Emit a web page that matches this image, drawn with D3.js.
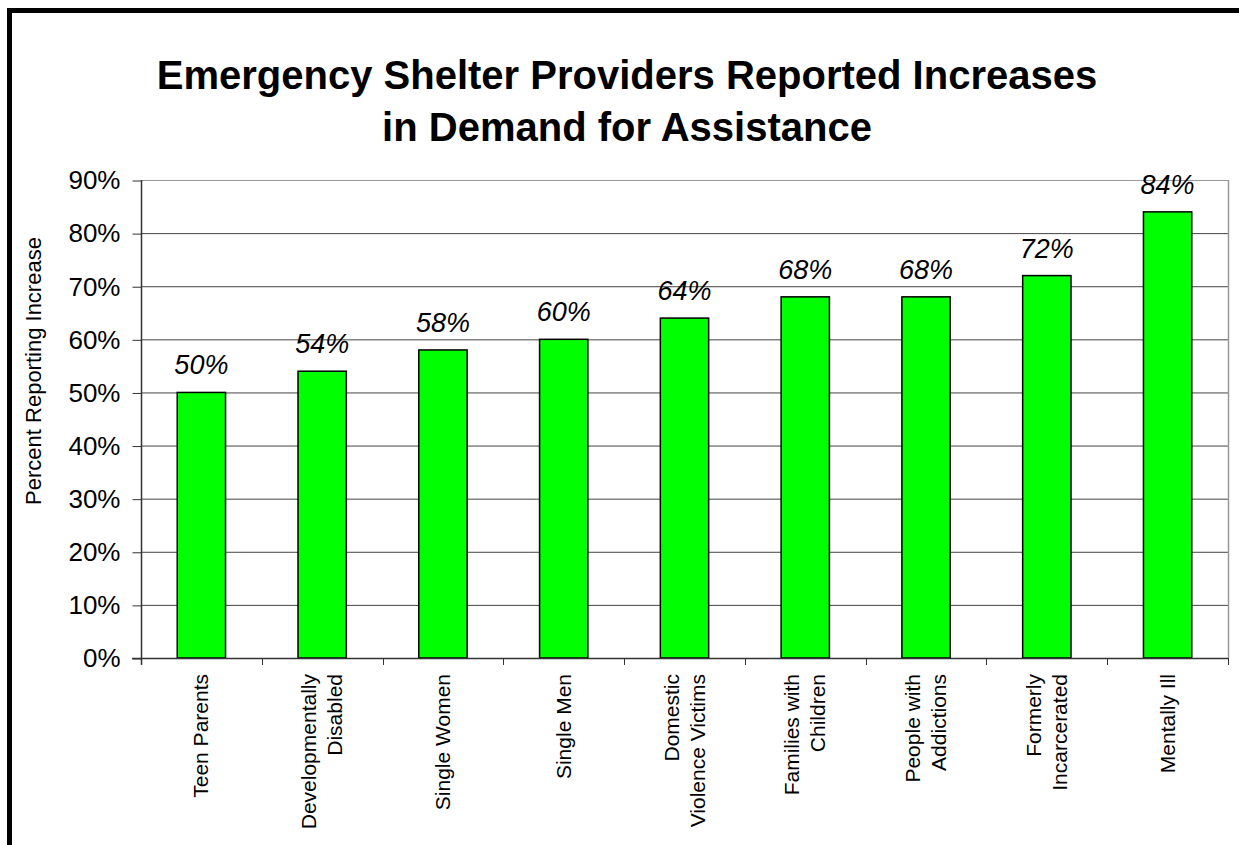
<!DOCTYPE html>
<html>
<head>
<meta charset="utf-8">
<script src="https://cdn.jsdelivr.net/npm/d3@7"></script>
<style>
  html, body { margin: 0; padding: 0; background: #fff; }
  svg { display: block; }
  text { font-family: "Liberation Sans", Arial, Helvetica, sans-serif; }
</style>
</head>
<body>
<script>
// Groups served by emergency shelters, one entry per bar (line breaks as drawn)
const categories = [
  ["Teen Parents"],
  ["Developmentally", "Disabled"],
  ["Single Women"],
  ["Single Men"],
  ["Domestic", "Violence Victims"],
  ["Families with", "Children"],
  ["People with", "Addictions"],
  ["Formerly", "Incarcerated"],
  ["Mentally Ill"]
];
// Share of providers reporting an increase in demand
const values = [0.50, 0.54, 0.58, 0.60, 0.64, 0.68, 0.68, 0.72, 0.84];
const yTicks = [0, 0.1, 0.2, 0.3, 0.4, 0.5, 0.6, 0.7, 0.8, 0.9];
const titleLines = ["Emergency Shelter Providers Reported Increases", "in Demand for Assistance"];
const yTitle = "Percent Reporting Increase";

const W = 1239, H = 845;
const plot = { left: 141, right: 1228, top: 180, bottom: 658 };

const svg = d3.select("body").append("svg")
  .attr("width", W).attr("height", H);

svg.append("rect").attr("width", W).attr("height", H).attr("fill", "#fff");

// Outer frame (only top and left edges fall inside the page)
svg.append("rect")
  .attr("x", 9.5).attr("y", 10.5)
  .attr("width", W + 20).attr("height", H + 20)
  .attr("fill", "none").attr("stroke", "#000").attr("stroke-width", 5);

// Title
svg.append("g").selectAll("text").data(titleLines).join("text")
  .attr("x", 627).attr("y", (d, i) => 89 + i * 52)
  .attr("text-anchor", "middle")
  .attr("font-weight", "bold").attr("font-size", 40)
  .attr("fill", "#000")
  .text(d => d);

const x = d3.scaleBand()
  .domain(d3.range(categories.length))
  .range([plot.left, plot.right])
  .paddingInner(0).paddingOuter(0);

const y = d3.scaleLinear().domain([0, 0.9]).range([plot.bottom, plot.top]);

// Gridlines
svg.append("g").selectAll("line").data(yTicks.filter(t => t > 0)).join("line")
  .attr("x1", plot.left).attr("x2", plot.right)
  .attr("y1", d => y(d) + 0.5).attr("y2", d => y(d) + 0.5)
  .attr("stroke", d => d === 0.9 ? "#999" : "#444").attr("stroke-width", 1);

// Right border of the plot area
svg.append("line")
  .attr("x1", plot.right + 0.5).attr("x2", plot.right + 0.5)
  .attr("y1", plot.top).attr("y2", plot.bottom)
  .attr("stroke", "#999").attr("stroke-width", 1.5);

// Bars
svg.append("g").selectAll("rect").data(values).join("rect")
  .attr("x", (d, i) => x(i) + x.bandwidth() * 0.3)
  .attr("width", x.bandwidth() * 0.4)
  .attr("y", d => y(d))
  .attr("height", d => y(0) - y(d))
  .attr("fill", "#00ff00")
  .attr("stroke", "#000").attr("stroke-width", 1.5);

// Value labels
svg.append("g").selectAll("text").data(values).join("text")
  .attr("x", (d, i) => x(i) + x.bandwidth() / 2)
  .attr("y", d => y(d) - 18)
  .attr("text-anchor", "middle")
  .attr("font-style", "italic").attr("font-size", 27)
  .attr("fill", "#000")
  .text(d => d3.format(".0%")(d));

// Y axis
const yAxis = d3.axisLeft(y).tickValues(yTicks).tickFormat(d3.format(".0%"))
  .tickSize(9).tickPadding(12);
const gy = svg.append("g").attr("transform", `translate(${plot.left + 0.5},0.5)`).call(yAxis);
gy.select(".domain").remove();
gy.selectAll(".tick line").attr("stroke", "#333");
gy.selectAll(".tick text").attr("font-size", 26).attr("fill", "#000")
  .attr("font-family", '"Liberation Sans", Arial, sans-serif');
svg.append("line")
  .attr("x1", plot.left + 0.5).attr("x2", plot.left + 0.5)
  .attr("y1", plot.top).attr("y2", plot.bottom + 7)
  .attr("stroke", "#333").attr("stroke-width", 1.5);

// X axis baseline and category boundary ticks
svg.append("line")
  .attr("x1", plot.left - 9).attr("x2", plot.right)
  .attr("y1", plot.bottom + 0.5).attr("y2", plot.bottom + 0.5)
  .attr("stroke", "#333").attr("stroke-width", 1.5);
svg.append("g").selectAll("line")
  .data(d3.range(1, categories.length + 1)).join("line")
  .attr("x1", i => Math.round(x(0) + i * x.bandwidth()) + 0.5)
  .attr("x2", i => Math.round(x(0) + i * x.bandwidth()) + 0.5)
  .attr("y1", plot.bottom).attr("y2", plot.bottom + 7)
  .attr("stroke", "#333").attr("stroke-width", 1);

// Category labels, rotated
const lineGap = 26;
const catG = svg.append("g").selectAll("text").data(categories).join("text")
  .attr("transform", (d, i) => `translate(${x(i) + x.bandwidth() / 2},674) rotate(-90)`)
  .attr("text-anchor", "end")
  .attr("font-size", 21).attr("fill", "#000");
catG.selectAll("tspan").data(d => d.map((t, k) => ({ t, k, n: d.length }))).join("tspan")
  .attr("x", 0)
  .attr("y", d => (d.k - (d.n - 1) / 2) * lineGap + 7)
  .text(d => d.t);

// Y axis title
svg.append("text")
  .attr("transform", `translate(41,${(plot.top + plot.bottom) / 2 - 48}) rotate(-90)`)
  .attr("text-anchor", "middle")
  .attr("font-size", 22).attr("fill", "#000")
  .text(yTitle);
</script>
</body>
</html>
